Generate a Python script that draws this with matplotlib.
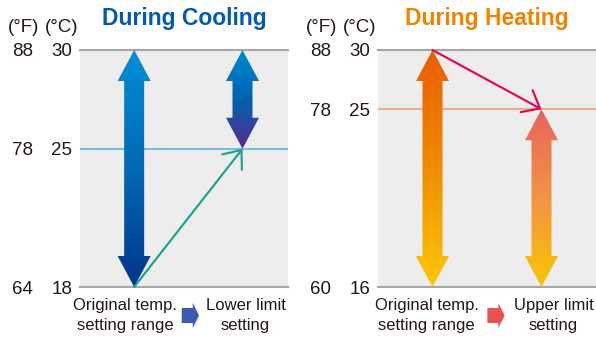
import numpy as np
import matplotlib
matplotlib.use("Agg")
import matplotlib.pyplot as plt
from matplotlib.colors import LinearSegmentedColormap
from matplotlib.patches import Polygon
from matplotlib.transforms import IdentityTransform

# scale ticks of the two panels
cool_c = [18, 25, 30]
cool_f = [64, 78, 88]
heat_c = [16, 25, 30]
heat_f = [60, 78, 88]
heat_pos = [0, 0.75, 1]          # schematic spacing of the heating scale

# setting ranges (°C): original range, then the limited one
cool_ranges = [(18, 30), (25, 30)]
heat_ranges = [(16, 30), (16, 25)]

cool_labels = ["Original temp.\nsetting range", "Lower limit\nsetting"]
heat_labels = ["Original temp.\nsetting range", "Upper limit\nsetting"]

cool_grad = [["#0090d6", "#0069b5", "#00358b"],
             ["#008bd3", "#0062ad", "#5a2a8e"]]
heat_grad = [["#e95d00", "#f08c00", "#fbc900"],
             ["#e9625e", "#f09544", "#fbc600"]]

TXT = "#231815"
BG = "#ededed"
plt.rcParams["font.family"] = ["Liberation Sans", "DejaVu Sans"]


def grad_arrow(ax, x, lo, hi, colors, sw=10, hw=16.5, hl=31):
    tr = ax.transData
    px, yt = tr.transform((x, hi))
    _, yb = tr.transform((x, lo))
    pts = [(px, yt), (px + hw, yt - hl), (px + sw, yt - hl), (px + sw, yb + hl),
           (px + hw, yb + hl), (px, yb), (px - hw, yb + hl), (px - sw, yb + hl),
           (px - sw, yt - hl), (px - hw, yt - hl)]
    patch = Polygon(pts, closed=True, transform=IdentityTransform())
    inv = ax.transAxes.inverted()
    (ax0, ay0), (ax1, ay1) = inv.transform([(px - hw - 1, yb - 1), (px + hw + 1, yt + 1)])
    cmap = LinearSegmentedColormap.from_list("g", colors[::-1])
    grad = np.linspace(0, 1, 256).reshape(-1, 1)
    im = ax.imshow(grad, cmap=cmap, extent=[ax0, ax1, ay0, ay1], origin="lower",
                   transform=ax.transAxes, aspect="auto", interpolation="bilinear",
                   zorder=3)
    im.set_clip_path(patch)


def block_icon(ax, x, dx, color):
    tr = ax.transData
    cx, _ = tr.transform((x, 0))
    cy = ax.transAxes.transform((0, 0))[1] - 28.5
    cx += dx
    pts = [(cx - 8.6, cy + 7.5), (cx + 2.4, cy + 7.5), (cx + 2.4, cy + 12.5), (cx + 8.7, cy),
           (cx + 2.4, cy - 12.5), (cx + 2.4, cy - 7.5), (cx - 8.6, cy - 7.5)]
    fig.patches.append(Polygon(pts, closed=True, transform=IdentityTransform(),
                               facecolor=color, edgecolor="none"))


def panel(ax, ticks_c, ticks_f, ranges, grads, labels, title, tcolor, midcolor,
          linecolor, start, end, label_dx, icon_dx, icon_color):
    ax.set_facecolor(BG)
    for s in ax.spines.values():
        s.set_visible(False)
    ax.set_xticks([])
    ax.set_yticks(ticks_c)
    ax.set_yticklabels([str(v) for v in ticks_c], fontsize=13.5, color=TXT)
    ax.tick_params(axis="y", length=0, pad=5.5)
    for c, f in zip(ticks_c, ticks_f):
        ax.annotate(str(f), xy=(0, c), xycoords=("axes fraction", "data"),
                    xytext=(-47, 0), textcoords="offset pixels", ha="right",
                    va="center_baseline", fontsize=13.5, color=TXT)
    ax.annotate("(°F)", xy=(0, 1), xycoords="axes fraction", xytext=(-56, 22),
                textcoords="offset pixels", ha="center", va="center",
                fontsize=13.5, color=TXT)
    ax.annotate("(°C)", xy=(0, 1), xycoords="axes fraction", xytext=(-18, 22),
                textcoords="offset pixels", ha="center", va="center",
                fontsize=13.5, color=TXT)
    ax.annotate(title, xy=(0.5, 1), xycoords="axes fraction", xytext=(0, 31),
                textcoords="offset pixels", ha="center", va="center",
                fontsize=16.5, fontweight="bold", color=tcolor)
    ax.axhline(ticks_c[0], color="#a6a6a6", lw=1.5, clip_on=False)
    ax.axhline(ticks_c[-1], color="#a6a6a6", lw=1.5, clip_on=False)
    ax.axhline(ticks_c[1], color=midcolor, lw=1.2, zorder=1)
    for i, ((lo, hi), cols) in enumerate(zip(ranges, grads)):
        grad_arrow(ax, i, lo, hi, cols)
    ax.annotate("", xy=end, xytext=start,
                arrowprops=dict(arrowstyle="->,head_length=0.55,head_width=0.45",
                                color=linecolor, lw=1.5, shrinkA=0, shrinkB=0,
                                mutation_scale=20),
                annotation_clip=False, zorder=4)
    for i, (lab, dx) in enumerate(zip(labels, label_dx)):
        ax.annotate(lab, xy=(i, 0), xycoords=("data", "axes fraction"),
                    xytext=(dx, -11), textcoords="offset pixels", ha="center",
                    va="top", fontsize=12, color=TXT, linespacing=1.4,
                    annotation_clip=False)
    block_icon(ax, 0.5, icon_dx, icon_color)


fig = plt.figure(figsize=(5.96, 3.43), dpi=100)
ax1 = fig.add_axes([80 / 596, 56 / 343, 208 / 596, 237 / 343])
ax2 = fig.add_axes([378 / 596, 56 / 343, 218 / 596, 237 / 343])

ax1.set_xlim(-0.5, 1.42)
ax1.set_ylim(cool_c[0], cool_c[-1])

ax2.set_yscale("function", functions=(lambda v: np.interp(v, heat_c, heat_pos),
                                      lambda v: np.interp(v, heat_pos, heat_c)))
ax2.set_xlim(-0.5, 1.5)
ax2.set_ylim(heat_c[0], heat_c[-1])

panel(ax1, cool_c, cool_f, cool_ranges, cool_grad, cool_labels, "During Cooling",
      "#005bac", "#62b0e6", "#17a08e", (0, cool_ranges[0][0]), (1, cool_ranges[1][0]),
      [-9, 3], 2, "#3a5cb0")
panel(ax2, heat_c, heat_f, heat_ranges, heat_grad, heat_labels, "During Heating",
      "#f08300", "#f2a070", "#e4004f", (0, heat_ranges[0][1]), (1, heat_ranges[1][1]),
      [-6, 12], 9, "#e8524f")

ax1.set_xlim(-0.5, 1.42)
ax1.set_ylim(cool_c[0], cool_c[-1])
ax2.set_xlim(-0.5, 1.5)
ax2.set_ylim(heat_c[0], heat_c[-1])

fig.savefig("out.png", dpi=100)
